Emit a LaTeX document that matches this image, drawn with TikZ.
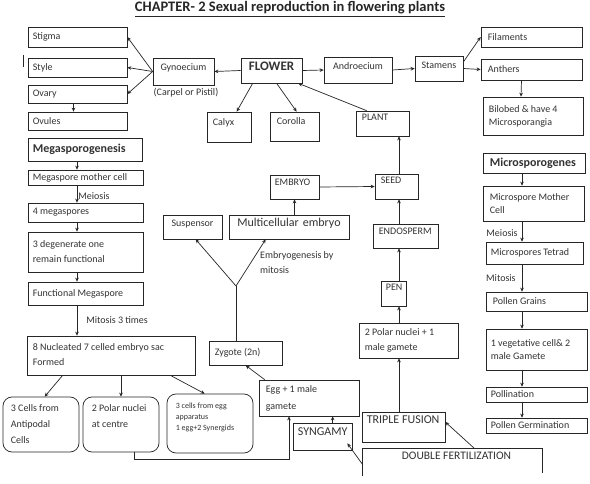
\documentclass[tikz,border=0pt]{standalone}
\usepackage{fontspec}
\setmainfont{Carlito}
\usetikzlibrary{fit,arrows.meta,calc}
\newcommand\myfs[2]{\fontsize{#1}{#2}\selectfont}
\tikzset{
  box/.style={draw=black!85,line width=0.7pt,inner sep=0pt},
  rbox/.style={box,rounded corners=9pt},
  tx/.style={inner sep=0pt,align=left,text=black!80,font=\myfs{10}{15}},
  ctx/.style={tx,align=center},
  lw/.style={tx,anchor=west,xshift=5pt},
  tl/.style={tx,anchor=north west,xshift=6pt,yshift=-4pt},
  arr/.style={draw=black!85,line width=0.7pt,-{Stealth[length=4pt,width=3.6pt]}},
  ln/.style={draw=black!85,line width=0.7pt},
  lab/.style={tx,font=\myfs{10}{15}},
}
\begin{document}
\begin{tikzpicture}[x=1pt,y=-1pt]
\fill[white] (0,0) rectangle (590,484);
\useasboundingbox (0,0) rectangle (590,484);

\node[font=\myfs{14.5}{16}\bfseries,text=black!85,inner sep=0pt] (title) at (290,9) {\underline{CHAPTER- 2 Sexual reproduction in flowering plants}};

% ---- top left
\node[box,fit={(28,27)(127,47)},label={[lw]west:Stigma}] (stigma) {};
\node[box,fit={(28,58)(127,77)},label={[lw]west:Style}] (style) {};
\node[box,fit={(28,85)(127,103)},label={[lw]west:Ovary}] (ovary) {};
\node[box,fit={(28,112)(127,130)},label={[lw]west:Ovules}] (ovules) {};
\draw[line width=1.1pt,black!85] (23.5,55) -- (23.5,67);

\node[box,fit={(153,58)(214,85)},ctx] (gyn) {Gynoecium};
\node[lab] (carpel) at (186,93) {(Carpel or Pistil)};
\node[box,fit={(241,58)(302,83)},ctx,font=\myfs{13}{15}\bfseries] (flower) {FLOWER};
\node[box,fit={(324,57)(392,83)},ctx] (andro) {Androecium};
\node[box,fit={(415,56)(463,81)},ctx] (stamens) {Stamens};
\node[box,fit={(481,27)(582,47)},label={[lw,xshift=2pt]west:Filaments}] (fil) {};
\node[box,fit={(481,59)(582,80)},label={[lw,xshift=2pt]west:Anthers}] (anth) {};
\node[box,fit={(483,97)(583,135)},label={[lw,xshift=1pt,font=\myfs{10}{13}]west:{Bilobed \& have 4\\Microsporangia}}] (bilobed) {};

\node[box,fit={(207,112)(251,142)},label={[tl,yshift=-3pt]north west:Calyx}] (calyx) {};
\node[box,fit={(270,112)(319,141)},label={[tl,xshift=1pt,yshift=-2pt]north west:Corolla}] (corolla) {};
\node[box,fit={(356,111)(409,136)},label={[tl,yshift=1pt]north west:PLANT}] (plant) {};

% ---- left column
\node[box,fit={(28,138)(142,161)},label={[lw,font=\myfs{12}{14}\bfseries]west:Megasporogenesis}] (megag) {};
\node[box,fit={(28,170)(143,185)},label={[lw]west:Megaspore mother cell}] (mmc) {};
\node[box,fit={(28,203)(143,222)},label={[lw]west:4 megaspores}] (mega4) {};
\node[box,fit={(28,232)(143,272)},label={[lw]west:{3 degenerate one\\remain functional}}] (degen) {};
\node[box,fit={(28,282)(143,305)},label={[lw]west:Functional Megaspore}] (func) {};
\node[box,fit={(27,336)(195,375)},label={[lw,xshift=1pt,yshift=1pt]west:{8 Nucleated 7 celled embryo sac\\Formed}}] (nuc8) {};
\node[rbox,fit={(3,397)(79,452)},label={[lw,xshift=3pt,font=\myfs{10}{16}]west:{3 Cells from\\Antipodal\\Cells}}] (anti) {};
\node[rbox,fit={(83,397)(159,452)},label={[tl,xshift=3pt,yshift=-4pt,font=\myfs{10}{16}]north west:{2 Polar nuclei\\at centre}}] (polar) {};
\node[rbox,fit={(167,394)(253,453)},label={[tl,xshift=3pt,yshift=-5pt,font=\myfs{8}{11}]north west:{3 cells from egg\\apparatus\\1 egg+2 Synergids}}] (eggapp) {};

% ---- middle
\node[box,fit={(209,341)(282,365)},label={[lw,xshift=1pt]west:Zygote (2n)}] (zyg) {};
\node[box,fit={(259,380)(359,416)},label={[lw,xshift=2pt,font=\myfs{10}{17}]west:{Egg + 1 male\\gamete}}] (egg) {};
\node[box,fit={(293,423)(352,450)},label={[tl,xshift=-1pt,yshift=-1pt,font=\myfs{12}{14}]north west:SYNGAMY}] (syn) {};
\node[box,fit={(362,412)(445,442)},label={[tl,xshift=-1pt,font=\myfs{12}{14}]north west:TRIPLE FUSION}] (triple) {};
\node[fit={(363,449)(542,476)},inner sep=0pt,label={[tx,font=\myfs{11.5}{14},anchor=north,xshift=4pt,yshift=-3pt]north:DOUBLE FERTILIZATION}] (dbl) {};
\draw[ln] (dbl.south west) -- (dbl.north west) -- (dbl.north east) -- ([yshift=3pt]dbl.south east);

\node[box,fit={(359,323)(458,358)},label={[lw,xshift=1pt]west:{2 Polar nuclei + 1\\male gamete}}] (polar2) {};
\node[box,fit={(381,281)(406,306)},label={[tl,xshift=-1pt,yshift=1pt]north west:PEN}] (pen) {};
\node[box,fit={(373,224)(438,248)},label={[tl]north west:ENDOSPERM}] (endo) {};
\node[box,fit={(375,174)(418,199)},label={[tl,yshift=1pt]north west:SEED}] (seed) {};
\node[box,fit={(270,175)(319,199)},label={[tl,xshift=-1pt]north west:EMBRYO}] (embryo) {};
\node[box,fit={(229,215)(349,239)},ctx,font=\myfs{12}{14}] (multi) {Multicellular embryo};
\node[box,fit={(163,215)(222,239)},ctx] (susp) {Suspensor};
\node[lab,anchor=north west] (embl) at (260,251) {Embryogenesis by\\mitosis};

% ---- right column
\node[box,fit={(483,153)(585,173)},label={[lw,xshift=2pt,font=\myfs{12}{14}\bfseries]west:Microsporogenes}] (microg) {};
\node[box,fit={(483,186)(584,221)},label={[lw,xshift=2pt,font=\myfs{10}{13}]west:{Microspore Mother\\Cell}}] (mmc2) {};
\node[box,fit={(486,242)(583,264)},label={[lw]west:Microspores Tetrad}] (tetrad) {};
\node[box,fit={(486,292)(587,311)},label={[lw,xshift=2pt]west:Pollen Grains}] (pollen) {};
\node[box,fit={(486,329)(587,370)},label={[lw,font=\myfs{10}{13}]west:{1 vegetative cell\& 2\\male Gamete}}] (veg) {};
\node[box,fit={(486,387)(587,402)},label={[lw]west:Pollination}] (pollin) {};
\node[box,fit={(486,418)(587,433)},label={[lw]west:Pollen Germination}] (germ) {};

\coordinate (lcol) at (77,0);
\coordinate (rcol) at (522,0);
\coordinate (mcol) at (399,0);
\coordinate (fork) at (236,286);

% ---- connectors top
\draw[arr] (flower.west) -- (gyn.east);
\draw[arr] (gyn.west) -- (stigma.east);
\draw[arr] (gyn.west) -- (style.east);
\draw[arr] (gyn.west) -- (ovary.east);
\draw[arr] ([xshift=-4pt]ovary.south) -- ([xshift=-4pt]ovules.north);
\draw[arr] (flower.east) -- (andro.west);
\draw[arr] (andro.east) -- (stamens.west);
\draw[arr] (stamens.15) -- (fil.west);
\draw[arr] (stamens.east) -- (anth.west);
\draw[arr] ([xshift=-10pt]anth.south) -- ([xshift=-12pt]bilobed.north);
\draw[arr] ([xshift=12pt]flower.south west) -- ([xshift=30pt]calyx.north west);
\draw[arr] ([xshift=36pt]flower.south west) -- ([xshift=27pt]corolla.north west);
\draw[arr] ([xshift=11pt]plant.north west) -- ([xshift=-4pt]flower.south east);

% ---- middle column
\draw[arr] (seed.north -| mcol) -- (plant.south -| mcol);
\draw[arr] (endo.north -| mcol) -- (seed.south -| mcol);
\draw[arr] (pen.north -| mcol) -- (endo.south -| mcol);
\draw[arr] (polar2.north -| mcol) -- (pen.south -| mcol);
\draw[arr] (triple.north -| mcol) -- (polar2.south -| mcol);
\draw[arr] (embryo.east) -- (seed.west);
\draw[arr] (multi.north -| embryo.south) -- (embryo.south);
\draw[ln] (zyg.north -| fork) -- (fork);
\draw[arr] (fork) -- ([xshift=33pt]susp.south west);
\draw[arr] (fork) -- ([xshift=37pt]multi.south west);
\draw[arr] ([xshift=6pt]egg.north west) -- ([xshift=37pt]zyg.south west);
\coordinate (synup) at ([xshift=40pt]syn.north west);
\draw[arr] (synup) -- (synup |- egg.south);
\draw[arr] ([yshift=-16pt]dbl.north west) -- ([xshift=-5pt,yshift=7pt]syn.south east);
\draw[arr] ([xshift=112pt]dbl.north west) -- ([yshift=5pt]triple.east);
\draw[arr] ([xshift=13pt]polar.south) -- ++(0,7) -| ([xshift=-20pt]egg.south);

% ---- embryo sac
\draw[arr] ([xshift=36pt]nuc8.south west) -- ([xshift=42pt]anti.north west);
\draw[arr] (polar.north |- nuc8.south) -- (polar.north);
\draw[arr] ([xshift=-25pt]nuc8.south east) -- ([xshift=38pt]eggapp.north west);

% ---- left column arrows
\draw[arr] (megag.south -| lcol) -- (mmc.north -| lcol);
\draw[arr] (mmc.south -| lcol) -- node[lab,anchor=west,xshift=1pt,yshift=-2pt] (lmei) {Meiosis} (mega4.north -| lcol);
\draw[arr] (mega4.south -| lcol) -- (degen.north -| lcol);
\draw[arr] (degen.south -| lcol) -- (func.north -| lcol);
\draw[arr] (func.south -| lcol) -- node[lab,anchor=west,xshift=9pt] (lmit) {Mitosis 3 times} (nuc8.north -| lcol);

% ---- right column arrows
\draw[arr] (microg.south -| rcol) -- (mmc2.north -| rcol);
\draw[arr] (mmc2.south -| rcol) -- node[lab,anchor=east,xshift=-4pt,yshift=-2pt] (rmei) {Meiosis} (tetrad.north -| rcol);
\draw[arr] (tetrad.south -| rcol) -- node[lab,anchor=east,xshift=-6pt] (rmit) {Mitosis} (pollen.north -| rcol);
\draw[arr] (pollen.south -| rcol) -- (veg.north -| rcol);
\draw[arr] (veg.south -| rcol) -- (pollin.north -| rcol);
\draw[arr] (pollin.south -| rcol) -- (germ.north -| rcol);
\end{tikzpicture}
\end{document}
